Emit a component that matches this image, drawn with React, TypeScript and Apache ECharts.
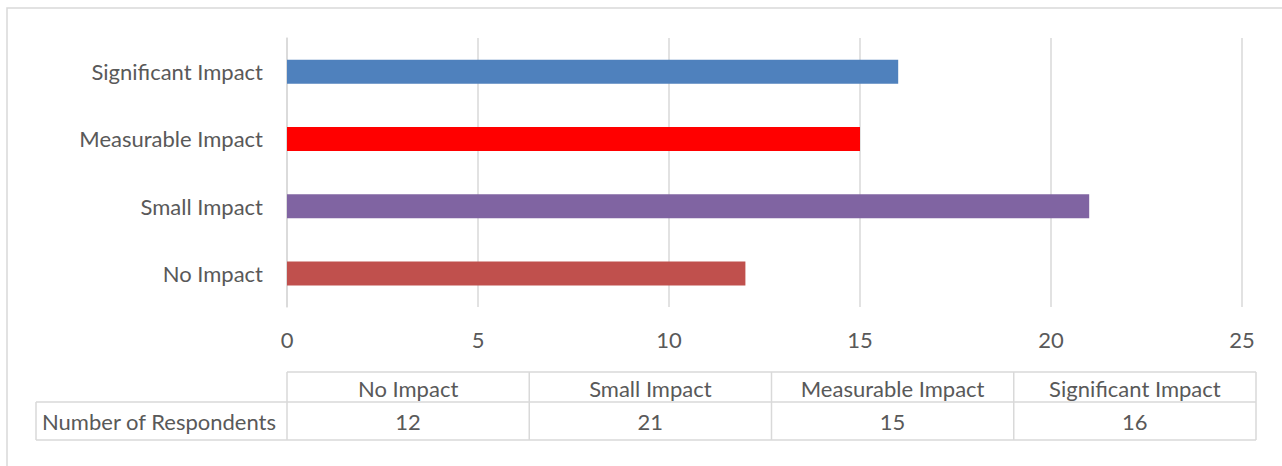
import React, { useEffect, useRef } from "react";
import * as echarts from "echarts";

// Impact categories, bottom to top on the chart and left to right in the table
const categories = ["No Impact", "Small Impact", "Measurable Impact", "Significant Impact"];
const respondents = [12, 21, 15, 16];
const barColors = ["#C0504D", "#8064A2", "#FF0000", "#4F81BD"];
const rowLabel = "Number of Respondents";
const axisMin = 0;
const axisMax = 25;
const axisStep = 5;

const FONT = "Lato, 'Noto Sans', sans-serif";
const FONT_SIZE = 22;
const TEXT = "#595959";
const LINE = "#d9d9d9";

const W = 1282;
const H = 466;
const GRID_LEFT = 287;
const GRID_RIGHT_X = 1242;
const GRID_TOP = 38;
const GRID_BOTTOM_Y = 307;

// data table geometry
const TABLE_LEFT = 36;
const TABLE_COL0 = 287;
const TABLE_RIGHT = 1256;
const HEAD_TOP = 372;
const ROW_TOP = 402;
const ROW_BOTTOM = 440;

function buildTable(): any[] {
  const els: any[] = [];
  const colW = (TABLE_RIGHT - TABLE_COL0) / categories.length;
  const ls = { stroke: LINE, lineWidth: 1.5 };
  const hline = (x1: number, x2: number, y: number) =>
    els.push({ type: "line", silent: true, shape: { x1, y1: y, x2, y2: y }, style: ls });
  const vline = (x: number, y1: number, y2: number) =>
    els.push({ type: "line", silent: true, shape: { x1: x, y1, x2: x, y2 }, style: ls });

  hline(TABLE_COL0, TABLE_RIGHT, HEAD_TOP);
  hline(TABLE_LEFT, TABLE_RIGHT, ROW_TOP);
  hline(TABLE_LEFT, TABLE_RIGHT, ROW_BOTTOM);
  vline(TABLE_LEFT, ROW_TOP, ROW_BOTTOM);
  for (let i = 0; i <= categories.length; i++) {
    vline(TABLE_COL0 + i * colW, HEAD_TOP, ROW_BOTTOM);
  }
  const txt = (x: number, y: number, s: string, align: string) =>
    els.push({
      type: "text",
      silent: true,
      x,
      y,
      style: {
        text: s,
        fill: TEXT,
        font: `${FONT_SIZE}px ${FONT}`,
        textAlign: align,
        textVerticalAlign: "middle",
      },
    });
  txt(TABLE_LEFT + 6, (ROW_TOP + ROW_BOTTOM) / 2, rowLabel, "left");
  categories.forEach((c, i) => {
    const cx = TABLE_COL0 + i * colW + colW / 2;
    txt(cx, (HEAD_TOP + ROW_TOP) / 2 + 1, c, "center");
    txt(cx, (ROW_TOP + ROW_BOTTOM) / 2, String(respondents[i]), "center");
  });
  return els;
}

export default function App() {
  const ref = useRef<HTMLDivElement>(null);

  useEffect(() => {
    document.body.style.margin = "0";
    if (!ref.current) return;
    const chart = echarts.init(ref.current, undefined, { renderer: "svg" });
    chart.setOption({
      animation: false,
      backgroundColor: "#ffffff",
      textStyle: { fontFamily: FONT },
      grid: {
        left: GRID_LEFT,
        right: W - GRID_RIGHT_X,
        top: GRID_TOP,
        bottom: H - GRID_BOTTOM_Y,
        containLabel: false,
      },
      xAxis: {
        type: "value",
        min: axisMin,
        max: axisMax,
        interval: axisStep,
        axisLine: { show: false },
        axisTick: { show: false },
        axisLabel: { color: TEXT, fontSize: FONT_SIZE, fontFamily: FONT, margin: 21 },
        splitLine: { show: true, lineStyle: { color: LINE, width: 1.5 } },
      },
      yAxis: {
        type: "category",
        data: categories,
        axisLine: { show: true, lineStyle: { color: LINE, width: 1.5 } },
        axisTick: { show: false },
        axisLabel: { color: TEXT, fontSize: FONT_SIZE, fontFamily: FONT, margin: 24 },
      },
      series: [
        {
          type: "bar",
          barWidth: 24,
          data: respondents.map((v, i) => ({ value: v, itemStyle: { color: barColors[i] } })),
        },
      ],
      graphic: [
        {
          type: "rect",
          silent: true,
          shape: { x: 7, y: 8, width: W + 20, height: H + 20 },
          style: { fill: "none", stroke: LINE, lineWidth: 1.5 },
          z: -1,
        },
        ...buildTable(),
      ],
    });
    return () => chart.dispose();
  }, []);

  return <div ref={ref} style={{ width: W, height: H }} />;
}
